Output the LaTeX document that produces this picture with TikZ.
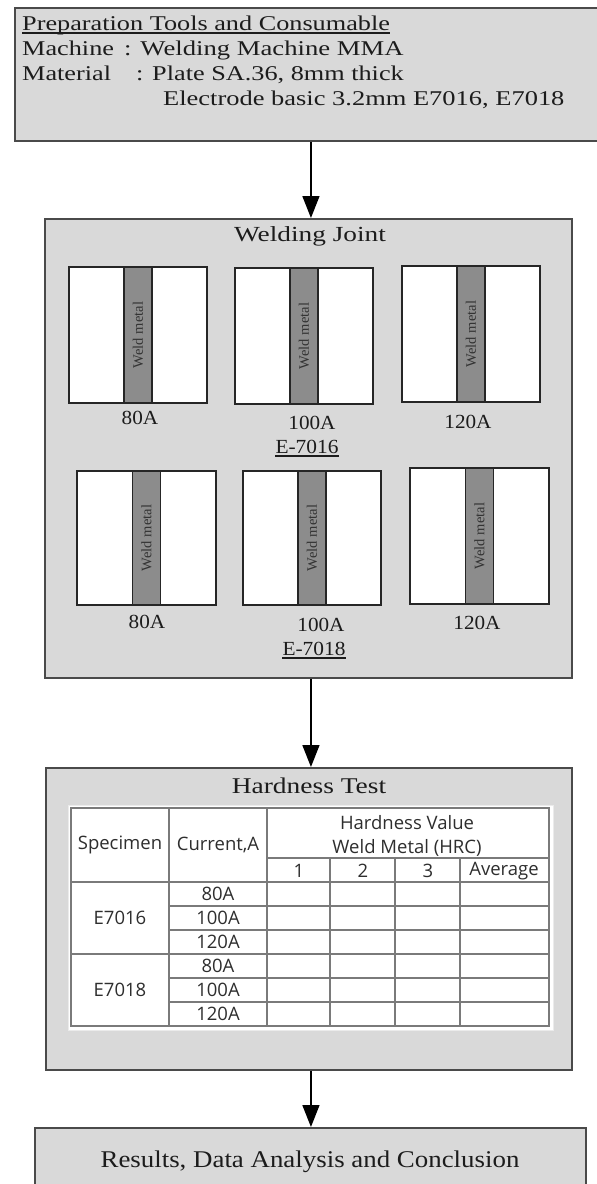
\documentclass[tikz,border=0pt]{standalone}
\usepackage{fontspec}
\setmainfont{Liberation Serif}
\newfontfamily\tabfont{Open Sans}
\usetikzlibrary{arrows.meta}
\newcommand{\sx}[2]{\scalebox{#1}[1]{#2}}
\definecolor{boxfill}{HTML}{D9D9D9}
\definecolor{boxline}{HTML}{4A4A4A}
\definecolor{weldfill}{HTML}{8C8C8C}
\definecolor{tabline}{HTML}{7A7A7A}
\definecolor{ink}{HTML}{1C1C1C}
\definecolor{tabink}{HTML}{2E2E2E}
\begin{document}
\begin{tikzpicture}[x=1pt,y=-1pt,
  panel/.style={draw=boxline, line width=1.9pt, fill=boxfill, rectangle, inner sep=0pt, anchor=north west},
  plate/.style={draw=black!85, line width=1.4pt, fill=white, rectangle, inner sep=0pt},
  weld/.style={draw=black!85, line width=1.6pt, fill=weldfill, rectangle, inner sep=0pt, minimum width=28pt},
  weldtxt/.style={rotate=90, inner sep=0pt, text=black!80, font=\fontsize{14.5}{16}\selectfont},
  toptxt/.style={anchor=base west, inner sep=0pt, text=ink, font=\fontsize{21}{25}\selectfont},
  lab/.style={inner sep=0pt, text=ink, font=\fontsize{20}{24}\selectfont},
  title/.style={inner sep=0pt, text=ink},
  uline/.style={draw=ink, line width=1.1pt},
  arr/.style={draw=black, line width=1.5pt, -{Triangle[width=17pt,length=22pt]}},
  tl/.style={draw=tabline, line width=1.2pt},
  tt/.style={inner sep=0pt, text=tabink, font=\tabfont\fontsize{18.5}{22}\selectfont},
]
\useasboundingbox (0,0) rectangle (597,1184);
\clip (0,0) rectangle (597,1184);
\fill[white] (0,0) rectangle (597,1184);

% ---------- Box 1 ----------
\node[panel, minimum width=592pt, minimum height=133pt] (prep) at (14,7) {};
\node[toptxt] (h1) at (22,30) {\sx{1.25}{Preparation Tools and Consumable}};
\draw[uline] ([yshift=-3pt]h1.base west) -- ([yshift=-3pt]h1.base east);
\node[toptxt] (m1) at (22,55) {\sx{1.25}{Machine}};
\node[toptxt] (m2) at (124,55) {\sx{1.27}{: Welding Machine MMA}};
\node[toptxt] (ma1) at (22,80) {\sx{1.25}{Material}};
\node[toptxt] (ma2) at (136,80) {\sx{1.25}{: Plate SA.36, 8mm thick}};
\node[toptxt] (el) at (163,105) {\sx{1.26}{Electrode basic 3.2mm E7016, E7018}};

% ---------- Box 2 ----------
\node[panel, minimum width=527pt, minimum height=459pt] (joint) at (44,218) {};
\node[title, font=\fontsize{21.5}{25}\selectfont] (jt) at (310,236) {\sx{1.27}{Welding Joint}};

% row 1 (E-7016)
\node[plate, minimum width=138pt, minimum height=136pt] (pa) at (138,335) {};
\node[weld, minimum height=136pt] (wa) at (pa.center) {};
\node[weldtxt] (ta) at (wa.center) {Weld metal};
\node[plate, minimum width=138pt, minimum height=136pt] (pb) at (304,336) {};
\node[weld, minimum height=136pt] (wb) at (pb.center) {};
\node[weldtxt] (tb) at (wb.center) {Weld metal};
\node[plate, minimum width=138pt, minimum height=136pt] (pc) at (471,334) {};
\node[weld, minimum height=136pt] (wc) at (pc.center) {};
\node[weldtxt] (tc) at (wc.center) {Weld metal};
\node[lab] (la) at (140,418) {\sx{1.06}{80A}};
\node[lab] (lb) at (312,423) {\sx{1.06}{100A}};
\node[lab] (lc) at (468,422) {\sx{1.06}{120A}};
\node[lab, anchor=base] (e16) at (307,453) {\sx{1.07}{E-7016}};
\draw[uline] ([yshift=-3pt]e16.base west) -- ([yshift=-3pt]e16.base east);

% row 2 (E-7018)
\node[plate, minimum width=139pt, minimum height=134pt] (pd) at (146.5,538) {};
\node[weld, minimum height=134pt] (wd) at (pd.center) {};
\node[weldtxt] (td) at (wd.center) {Weld metal};
\node[plate, minimum width=138pt, minimum height=134pt] (pe) at (312,538) {};
\node[weld, minimum height=134pt] (we) at (pe.center) {};
\node[weldtxt] (te) at (we.center) {Weld metal};
\node[plate, minimum width=139pt, minimum height=136pt] (pf) at (479.5,536) {};
\node[weld, minimum height=136pt] (wf) at (pf.center) {};
\node[weldtxt] (tf) at (wf.center) {Weld metal};
\node[lab] (ld) at (147,622) {\sx{1.06}{80A}};
\node[lab] (le) at (321,625) {\sx{1.06}{100A}};
\node[lab] (lf) at (477,623) {\sx{1.06}{120A}};
\node[lab, anchor=base] (e18) at (314,655) {\sx{1.07}{E-7018}};
\draw[uline] ([yshift=-3pt]e18.base west) -- ([yshift=-3pt]e18.base east);

% ---------- Box 3 ----------
\node[panel, minimum width=526pt, minimum height=302pt] (hard) at (45,767) {};
\node[title, font=\fontsize{22.5}{26}\selectfont] (ht) at (309,786) {\sx{1.22}{Hardness Test}};
\node[fill=white, draw=white!92!black, line width=1pt, inner sep=0pt, anchor=north west,
      minimum width=485pt, minimum height=225pt] (tab) at (68,805) {};
% table grid
\draw[tl] (71,808) rectangle (549,1026);
\draw[tl] (169,808) -- (169,1026);
\draw[tl] (267,808) -- (267,1026);
\draw[tl] (330,858) -- (330,1026);
\draw[tl] (395,858) -- (395,1026);
\draw[tl] (460,858) -- (460,1026);
\draw[tl] (267,858) -- (549,858);
\draw[tl] (71,882) -- (549,882);
\draw[tl] (169,906) -- (549,906);
\draw[tl] (169,930) -- (549,930);
\draw[tl] (71,954) -- (549,954);
\draw[tl] (169,978) -- (549,978);
\draw[tl] (169,1002) -- (549,1002);
% table text
\node[tt] (c1) at (120,845) {Specimen};
\node[tt] (c2) at (218,845) {Current,A};
\node[tt] (c3) at (407,823) {Hardness Value};
\node[tt] (c4) at (407,848) {Weld Metal (HRC)};
\node[tt] (n1) at (299,871) {1};
\node[tt] (n2) at (363,871) {2};
\node[tt] (n3) at (428,871) {3};
\node[tt] (n4) at (504,871) {Average};
\node[tt] (s1) at (120,918) {E7016};
\node[tt] (s2) at (120,990) {E7018};
\node[tt] (r1) at (218,894) {80A};
\node[tt] (r2) at (218,918) {100A};
\node[tt] (r3) at (218,942) {120A};
\node[tt] (r4) at (218,966) {80A};
\node[tt] (r5) at (218,990) {100A};
\node[tt] (r6) at (218,1014) {120A};

% ---------- Box 4 ----------
\node[panel, minimum width=551pt, minimum height=90pt] (res) at (34,1127) {};
\node[title, font=\fontsize{24}{28}\selectfont] (rt) at (310,1162) {\sx{1.12}{Results, Data Analysis and Conclusion}};

% ---------- Connectors ----------
\draw[arr] (prep.south) -- (prep.south |- joint.north);
\draw[arr] (joint.south -| prep.south) -- (hard.north -| prep.south);
\draw[arr] (hard.south -| prep.south) -- (res.north -| prep.south);
\end{tikzpicture}
\end{document}
